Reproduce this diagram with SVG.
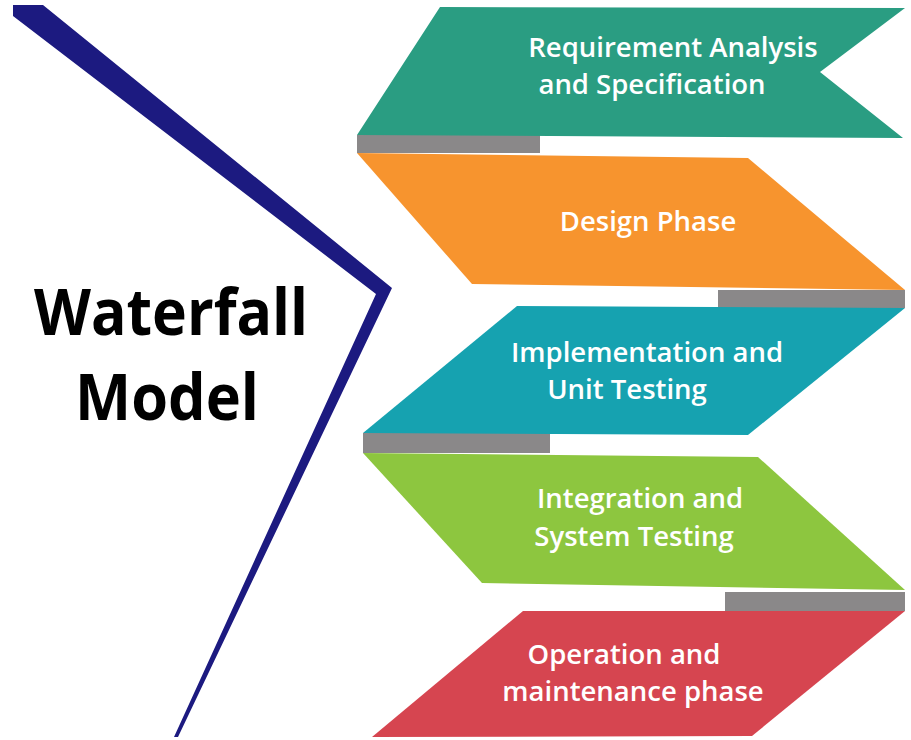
<svg xmlns="http://www.w3.org/2000/svg" width="911" height="740" viewBox="0 0 911 740">
<style>
.lbl{font-family:"Open Sans","Noto Sans","DejaVu Sans",sans-serif;font-weight:600;font-size:27.5px;fill:#ffffff}
.title{font-family:"Open Sans","Noto Sans","DejaVu Sans",sans-serif;font-weight:700;font-size:64px;fill:#000000}
.bar{fill:#8a8889}
</style>
<rect width="911" height="740" fill="#ffffff"/>
<g id="line">
<polygon points="13,5 43,5 392,288 178,737 174,737 376,294 13,16" fill="#1c1a80"/>
</g>
<g id="title">
<text class="title" x="171" y="335" text-anchor="middle" textLength="274" lengthAdjust="spacingAndGlyphs">Waterfall</text>
<text class="title" x="167" y="420" text-anchor="middle" textLength="184" lengthAdjust="spacingAndGlyphs">Model</text>
</g>
<g id="connectors">
<rect class="bar" x="357" y="135" width="183" height="18"/>
<rect class="bar" x="718" y="290" width="187" height="18"/>
<rect class="bar" x="363" y="433" width="187" height="20"/>
<rect class="bar" x="725" y="592" width="180" height="19"/>
</g>
<g id="requirement">
<polygon points="440,7 905,8 820,72 903,138 357,135" fill="#2a9d82"/>
<text class="lbl" x="673" y="57" text-anchor="middle">Requirement Analysis</text>
<text class="lbl" x="652" y="94" text-anchor="middle">and Specification</text>
</g>
<g id="design">
<polygon points="357,153 748,158 905,290 472,284" fill="#f7942e"/>
<text class="lbl" x="648" y="231" text-anchor="middle">Design Phase</text>
</g>
<g id="implementation">
<polygon points="517,306 905,308 748,435 363,433" fill="#16a2b0"/>
<text class="lbl" x="647" y="362" text-anchor="middle">Implementation and</text>
<text class="lbl" x="627" y="399" text-anchor="middle">Unit Testing</text>
</g>
<g id="integration">
<polygon points="363,453 758,457 905,590 482,583" fill="#8dc63f"/>
<text class="lbl" x="640" y="508" text-anchor="middle">Integration and</text>
<text class="lbl" x="634" y="546" text-anchor="middle">System Testing</text>
</g>
<g id="operation">
<polygon points="523,611 905,611 752,736 372,737" fill="#d64550"/>
<text class="lbl" x="624" y="664" text-anchor="middle">Operation and</text>
<text class="lbl" x="633" y="701" text-anchor="middle">maintenance phase</text>
</g>
</svg>
